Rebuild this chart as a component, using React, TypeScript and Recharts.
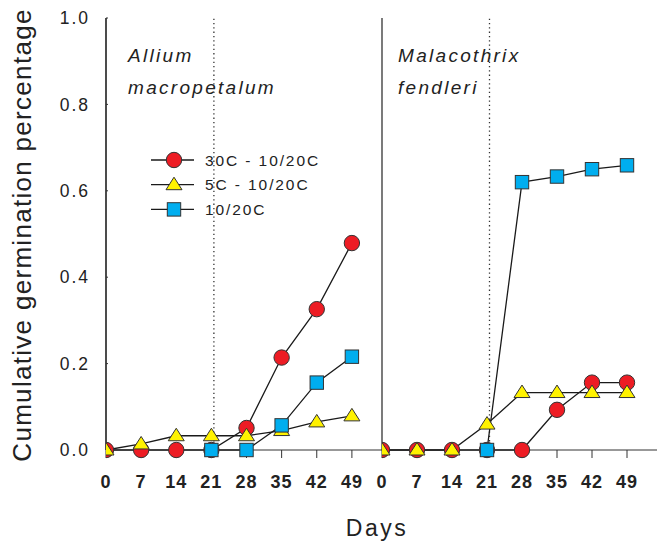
import React from 'react';
import { LineChart, Line, XAxis, YAxis, ReferenceLine, Legend, Customized } from 'recharts';

const days = [0, 7, 14, 21, 28, 35, 42, 49];
const xTicks = [0, 7, 14, 21, 28, 35, 42, 49];
const yTicks = [0, 0.2, 0.4, 0.6, 0.8, 1.0];
const seriesNames = ['30C - 10/20C', '5C - 10/20C', '10/20C'];

// Allium macropetalum
const alliumRed = [0, 0, 0, 0, 0.051, 0.214, 0.326, 0.479];
const alliumYellow = [0, 0.014, 0.033, 0.033, 0.033, 0.045, 0.065, 0.079];
const alliumBlue = [null, null, null, 0, 0, 0.057, 0.156, 0.216];

// Malacothrix fendleri
const malRed = [0, 0, 0, 0, 0, 0.093, 0.156, 0.156];
const malYellow = [0, 0, 0, 0.06, 0.133, 0.133, 0.133, 0.133];
const malBlue = [null, null, null, 0, 0.62, 0.633, 0.65, 0.659];

const toRows = (r: (number | null)[], y: (number | null)[], b: (number | null)[]) =>
  days.map((d, i) => ({ day: d, red: r[i], yellow: y[i], blue: b[i] }));

const alliumData = toRows(alliumRed, alliumYellow, alliumBlue);
const malData = toRows(malRed, malYellow, malBlue);

const FONT = '"Liberation Sans", Arial, sans-serif';
const RED = '#ED1C24';
const YELLOW = '#FFF200';
const BLUE = '#00AEEF';
const EDGE = '#333333';
const LINE = '#1a1a1a';

const Marker = ({ kind, cx, cy }: { kind: string; cx: number; cy: number }) => {
  if (kind === 'red') return <circle cx={cx} cy={cy} r={7.7} fill={RED} stroke={EDGE} strokeWidth={1} />;
  if (kind === 'yellow')
    return (
      <polygon
        points={`${cx},${cy - 7.5} ${cx - 8},${cy + 5} ${cx + 8},${cy + 5}`}
        fill={YELLOW}
        stroke={EDGE}
        strokeWidth={1}
      />
    );
  return <rect x={cx - 6.7} y={cy - 6.7} width={13.4} height={13.4} fill={BLUE} stroke={EDGE} strokeWidth={1} />;
};

const dotFor = (kind: string) => (props: any) => {
  const { cx, cy, index, value } = props;
  if (cx == null || cy == null || value == null || (Array.isArray(value) && value[1] == null))
    return <g key={`${kind}-${index}`} />;
  return (
    <g key={`${kind}-${index}`}>
      <Marker kind={kind} cx={cx} cy={cy} />
    </g>
  );
};

const LegendBox = () => {
  const kinds = ['red', 'yellow', 'blue'];
  return (
    <svg width={200} height={80} style={{ display: 'block' }}>
      {kinds.map((k, i) => {
        const y = 13 + i * 24.7;
        return (
          <g key={k}>
            <line x1={1} x2={44} y1={y} y2={y} stroke={LINE} strokeWidth={1.3} />
            <Marker kind={k} cx={24} cy={y} />
            <text
              x={55}
              y={y + 5.5}
              fontFamily={FONT}
              fontSize={15.5}
              letterSpacing={1.9}
              fill="#222"
            >
              {seriesNames[i]}
            </text>
          </g>
        );
      })}
    </svg>
  );
};

const Species = ({ x, l1, l2 }: { x: number; l1: string; l2: string }) => (
  <g>
    <text x={x} y={62} fontFamily={FONT} fontStyle="italic" fontSize={19} letterSpacing={2.3} fill="#222">
      {l1}
    </text>
    <text x={x} y={94} fontFamily={FONT} fontStyle="italic" fontSize={19} letterSpacing={2.3} fill="#222">
      {l2}
    </text>
  </g>
);

const xTickStyle = { fontFamily: FONT, fontSize: 18, fontWeight: 700, fill: '#222', letterSpacing: 1 };
const yTickStyle = { fontFamily: FONT, fontSize: 17.5, fill: '#222', letterSpacing: 2 };

const series = (
  ['red', 'yellow', 'blue'] as const
).map((k, i) => (
  <Line
    key={k}
    type="linear"
    dataKey={k}
    name={seriesNames[i]}
    stroke={LINE}
    strokeWidth={1.3}
    dot={dotFor(k)}
    activeDot={false}
    isAnimationActive={false}
    connectNulls={false}
  />
));

const frameLine = <ReferenceLine x={0} stroke={EDGE} strokeWidth={1.3} ifOverflow="extendDomain" />;

export default function App() {
  return (
    <div style={{ position: 'absolute', left: 0, top: 0, width: 657, height: 542, background: '#fff' }}>
      <div style={{ position: 'absolute', left: 0, top: 0 }}>
        <LineChart width={657} height={542} data={alliumData} margin={{ top: 18, right: 275, left: 0, bottom: 0 }}>
          <XAxis
            dataKey="day"
            type="number"
            domain={[0, 55]}
            ticks={xTicks}
            allowDataOverflow
            height={92}
            stroke={EDGE}
            tickSize={8}
            tickMargin={17}
            tick={xTickStyle}
            label={{
              content: () => (
                <text x={377} y={536} textAnchor="middle" fontFamily={FONT} fontSize={23} letterSpacing={2.5} fill="#222">
                  Days
                </text>
              ),
            }}
          />
          <XAxis xAxisId="top" orientation="top" height={0} tick={false} tickLine={false} stroke={EDGE} />
          <YAxis
            type="number"
            domain={[0, 1]}
            ticks={yTicks}
            width={106}
            stroke={EDGE}
            axisLine={{ stroke: EDGE, strokeWidth: 1.3 }}
            tickSize={-2}
            tickMargin={18}
            tick={yTickStyle}
            tickFormatter={(v: number) => v.toFixed(1)}
            label={{
              content: () => (
                <text
                  x={31}
                  y={235}
                  transform="rotate(-90 31 235)"
                  textAnchor="middle"
                  fontFamily={FONT}
                  fontSize={26}
                  letterSpacing={1.3}
                  fill="#222"
                >
                  Cumulative germination percentage
                </text>
              ),
            }}
          />
          {frameLine}
          <ReferenceLine
            x={21.5}
            segment={[{ x: 21.5, y: 0 }, { x: 21.5, y: 0.99 }]}
            stroke={EDGE}
            strokeDasharray="1.3 3"
            strokeWidth={1.3}
          />
          {series}
          <Customized component={() => <Species x={128} l1="Allium" l2="macropetalum" />} />
          <Legend
            verticalAlign="middle"
            align="center"
            layout="horizontal"
            content={() => <LegendBox />}
            wrapperStyle={{ position: 'absolute', left: 150, top: 147, width: 200, height: 80 }}
          />
        </LineChart>
      </div>
      <div style={{ position: 'absolute', left: 376, top: 0 }}>
        <LineChart width={281} height={542} data={malData} margin={{ top: 18, right: 0, left: 6, bottom: 0 }}>
          <XAxis
            dataKey="day"
            type="number"
            domain={[0, 55]}
            ticks={xTicks}
            allowDataOverflow
            height={92}
            stroke={EDGE}
            tickSize={8}
            tickMargin={17}
            tick={xTickStyle}
          />
          <XAxis xAxisId="top" orientation="top" height={0} tick={false} tickLine={false} stroke={EDGE} />
          <YAxis
            type="number"
            domain={[0, 1]}
            ticks={yTicks}
            width={0}
            stroke={EDGE}
            axisLine={{ stroke: EDGE, strokeWidth: 1.3 }}
            tickSize={-2}
            tickMargin={0}
            tickFormatter={() => ''}
          />
          {frameLine}
          <ReferenceLine
            x={21.5}
            segment={[{ x: 21.5, y: 0 }, { x: 21.5, y: 0.99 }]}
            stroke={EDGE}
            strokeDasharray="1.3 3"
            strokeWidth={1.3}
          />
          {series}
          <Customized component={() => <Species x={22} l1="Malacothrix" l2="fendleri" />} />
        </LineChart>
      </div>
    </div>
  );
}
